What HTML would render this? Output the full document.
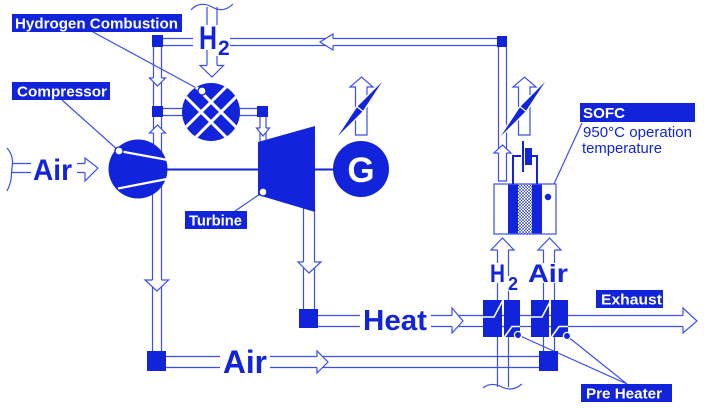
<!DOCTYPE html>
<html><head><meta charset="utf-8"><style>
html,body{margin:0;padding:0;background:#fff;}
svg{display:block;}
text{font-family:"Liberation Sans",Arial,sans-serif;}
</style></head><body>
<svg width="704" height="409" viewBox="0 0 704 409" xmlns="http://www.w3.org/2000/svg">
<defs>
<clipPath id="cc"><circle cx="211" cy="112" r="29"/></clipPath>
<pattern id="dots" width="3" height="3" patternUnits="userSpaceOnUse">
<rect width="3" height="3" fill="#fff"/><circle cx="1" cy="1" r="0.9" fill="#1124dc"/><circle cx="2.5" cy="2.5" r="0.6" fill="#1124dc"/>
</pattern>
</defs>
<rect width="704" height="409" fill="#fff"/>

<!-- pipe lines -->
<g stroke="#3b4ff0" stroke-width="1.2" fill="none">
 <path d="M163 38.5H193M230 38.5H497M163 45.5H193M230 45.5H497"/>
 <path d="M207 7V25M207 50V66M217 7V25M217 56V66"/>
 <path d="M191 10C197 3 205 3 212 7C219 11 226 11 233 4"/>
 <path d="M153.5 47V106M161.5 47V106"/>
 <path d="M163 108.5H183M163 115.5H183M239 108.5H257M239 115.5H257"/>
 <path d="M153.5 117V160M161.5 117V160"/>
 <path d="M152.5 175V351M161.5 175V351"/>
 <path d="M260 117V150M266 117V150"/>
 <path d="M303.5 200V309M314.5 200V309"/>
 <path d="M166 356.5H220M270 356.5H539M166 367.5H220M270 367.5H539"/>
 <path d="M318 315.5H360M431 315.5H683M318 326.5H360M431 326.5H683"/>
 <path d="M497.5 387V283M497.5 263V250M508.5 387V291M508.5 276V250"/>
 <path d="M483 388C489 383 496 384 502 387C508 390 515 390 522 384"/>
 <path d="M543.5 351V283M543.5 263V250M554.5 351V283M554.5 263V250"/>
 <path d="M498.5 47V181H506.5V47"/>
 <path d="M12 163.5H31M12 172.5H31M77 163.5H85M77 172.5H85"/>
 <path d="M7 148C13 155 13 161 12 168C11 176 12 182 7 191"/>
 <!-- leader lines -->
 <path d="M93 32L202 91M62 100L119 151M235 211L263 192M582 123L548 197M518 335L627 384M567 336L627 384"/>
</g>

<!-- arrowheads (hollow) -->
<g fill="#fff" stroke="none">
 <polygon points="149.5,78 165.5,78 157.5,86"/>
 <polygon points="149.5,133 165.5,133 157.5,125"/>
 <polygon points="145,280 168.5,280 157,291"/>
 <polygon points="256.5,128 269.5,128 263,136"/>
 <polygon points="298,262 321,262 309,273"/>
 <polygon points="200,65.5 223.5,65.5 212,77"/>
 <polygon points="333,34 333,50 320,42"/>
 <polygon points="494,153 511,153 502.5,145"/>
 <polygon points="317,351 317,373 328,362"/>
 <polygon points="452,308 452,333 463,321"/>
 <polygon points="85,158 85,181 98,168"/>
</g>
<g fill="none" stroke="#3b4ff0" stroke-width="1.2">
 <polyline points="153.5,78 149.5,78 157.5,86 165.5,78 161.5,78"/>
 <polyline points="153.5,133 149.5,133 157.5,125 165.5,133 161.5,133"/>
 <polyline points="152.5,280 145,280 157,291 168.5,280 161.5,280"/>
 <polyline points="260,128 256.5,128 263,136 269.5,128 266,128"/>
 <polyline points="303.5,262 298,262 309,273 321,262 314.5,262"/>
 <polyline points="207,65.5 200,65.5 212,77 223.5,65.5 217,65.5"/>
 <polyline points="333,38.5 333,34 320,42 333,50 333,45.5"/>
 <polyline points="498.5,153 494,153 502.5,145 511,153 506.5,153"/>
 <polyline points="317,356.5 317,351 328,362 317,373 317,367.5"/>
 <polyline points="452,315.5 452,308 463,321 452,333 452,326.5"/>
 <polyline points="85,163.5 85,158 98,168 85,181 85,172.5"/>
 <polyline points="683,315.5 683,308 697,321 683,333 683,326.5" fill="#fff"/>
 <polyline points="497.5,250 491,250 502.5,238 514,250 508.5,250" fill="#fff"/>
 <polyline points="543.5,250 538,250 549.5,238 561,250 554.5,250" fill="#fff"/>
</g>

<!-- junction squares -->
<g fill="#1124dc">
 <rect x="152" y="35" width="11" height="12"/>
 <rect x="152" y="106" width="11" height="11"/>
 <rect x="257" y="106" width="11" height="11"/>
 <rect x="497" y="36" width="10" height="11"/>
 <rect x="147" y="351" width="19" height="20"/>
 <rect x="539" y="351" width="19" height="20"/>
 <rect x="299" y="309" width="19" height="19"/>
</g>

<!-- shaft -->
<path d="M166 169.5H260M313 169.5H336" stroke="#1124dc" stroke-width="2"/>

<!-- compressor -->
<circle cx="138" cy="169" r="29.5" fill="#1124dc"/>
<path d="M119 151L168 160M118 188.5L167 179" stroke="#fff" stroke-width="2.2"/>
<circle cx="119" cy="151" r="4" fill="#fff" stroke="#1124dc" stroke-width="1.3"/>

<!-- combustion -->
<circle cx="211" cy="112" r="29" fill="#1124dc"/>
<g clip-path="url(#cc)" stroke="#fff" stroke-width="3">
 <path d="M175 138L250 63M175 158L250 83M175 86L250 161M175 66L250 141"/>
</g>
<circle cx="202" cy="91" r="4" fill="#fff" stroke="#1124dc" stroke-width="1.3"/>

<!-- turbine -->
<polygon points="258,142 315,126 315,212 258,195" fill="#1124dc"/>
<circle cx="263" cy="192" r="4" fill="#fff" stroke="#1124dc" stroke-width="1.3"/>

<!-- generator -->
<circle cx="361" cy="169" r="28" fill="#1124dc"/>
<text x="361" y="182" font-size="35" font-weight="bold" fill="#fff" text-anchor="middle">G</text>

<!-- G arrow + needle -->
<g id="ga">
 <polygon points="355.5,135 355.5,87 350,87 361.5,77 373,87 367,87 367,135" fill="#fff" stroke="#3b4ff0" stroke-width="1.2"/>
 <polygon points="338,136 362.7,111.2 382,82 357.3,106.8" fill="#fff" stroke="#fff" stroke-width="3"/>
 <polygon points="338,136 362.7,111.2 382,82 357.3,106.8" fill="#1124dc"/>
 <path d="M356.5 106.2L363.5 111.8" stroke="#fff" stroke-width="1.3"/>
</g>
<g transform="translate(163,0)">
 <polygon points="355.5,135 355.5,87 350,87 361.5,77 373,87 367,87 367,135" fill="#fff" stroke="#3b4ff0" stroke-width="1.2"/>
 <polygon points="338,136 362.7,111.2 382,82 357.3,106.8" fill="#fff" stroke="#fff" stroke-width="3"/>
 <polygon points="338,136 362.7,111.2 382,82 357.3,106.8" fill="#1124dc"/>
 <path d="M356.5 106.2L363.5 111.8" stroke="#fff" stroke-width="1.3"/>
</g>

<!-- SOFC -->
<rect x="494" y="184" width="62" height="50" fill="#fff" stroke="#3b4ff0" stroke-width="1.2"/>
<rect x="508" y="184.6" width="34" height="48.8" fill="#1124dc"/>
<rect x="518" y="184.6" width="14" height="48.8" fill="url(#dots)"/>
<circle cx="548" cy="197" r="3.2" fill="#1124dc"/>
<path d="M513 184V156H521M537 184V156H532" fill="none" stroke="#1124dc" stroke-width="2"/>
<path d="M523 141V172" stroke="#1124dc" stroke-width="2"/>
<rect x="525" y="148" width="7" height="17" fill="#1124dc"/>

<!-- heat exchangers -->
<g fill="#1124dc">
 <rect x="483" y="300" width="19" height="37"/>
 <rect x="504" y="300" width="16" height="37"/>
 <rect x="531" y="300" width="18" height="37"/>
 <rect x="551" y="300" width="17" height="37"/>
</g>
<g fill="none" stroke="#fff" stroke-width="1.6">
 <polyline points="483,317 494,317 502.5,301"/>
 <polyline points="504.5,337 512,326.5 520,326.5"/>
 <polyline points="531,317 542,317 550.5,301"/>
 <polyline points="551.5,337 559,326.5 568,326.5"/>
</g>
<circle cx="518" cy="335" r="3.6" fill="#1124dc" stroke="#fff" stroke-width="1.3"/>
<circle cx="567" cy="336" r="3.6" fill="#1124dc" stroke="#fff" stroke-width="1.3"/>

<!-- labels -->
<g fill="#1124dc">
 <rect x="12" y="14" width="170" height="18"/>
 <rect x="12" y="82" width="98" height="18"/>
 <rect x="185" y="211" width="62" height="18"/>
 <rect x="580" y="103" width="115" height="19"/>
 <rect x="596" y="290" width="67" height="18"/>
 <rect x="581" y="384" width="91" height="18"/>
</g>
<g fill="#fff" font-size="15" font-weight="bold">
 <text x="15" y="28.5" textLength="163" lengthAdjust="spacingAndGlyphs">Hydrogen Combustion</text>
 <text x="17" y="96.5" textLength="90" lengthAdjust="spacingAndGlyphs">Compressor</text>
 <text x="189" y="225.5" textLength="53" lengthAdjust="spacingAndGlyphs">Turbine</text>
 <text x="583" y="118" textLength="42" lengthAdjust="spacingAndGlyphs">SOFC</text>
 <text x="601" y="304.5" textLength="61" lengthAdjust="spacingAndGlyphs">Exhaust</text>
 <text x="586" y="398.5" textLength="76" lengthAdjust="spacingAndGlyphs">Pre Heater</text>
</g>
<g fill="#1124dc" font-size="15">
 <text x="583" y="137" textLength="109" lengthAdjust="spacingAndGlyphs">950°C operation</text>
 <text x="582" y="153" textLength="80" lengthAdjust="spacingAndGlyphs">temperature</text>
</g>

<!-- big labels -->
<g fill="#1124dc" font-weight="bold">
 <text x="199" y="49" font-size="32" textLength="18" lengthAdjust="spacingAndGlyphs">H</text>
 <text x="218" y="55" font-size="21">2</text>
 <text x="33" y="180" font-size="30" textLength="39" lengthAdjust="spacingAndGlyphs">Air</text>
 <text x="223" y="373" font-size="32" textLength="44" lengthAdjust="spacingAndGlyphs">Air</text>
 <text x="363" y="330" font-size="29" textLength="64" lengthAdjust="spacingAndGlyphs">Heat</text>
 <text x="490" y="282" font-size="25" textLength="15" lengthAdjust="spacingAndGlyphs">H</text>
 <text x="508" y="290" font-size="18">2</text>
 <text x="528" y="282" font-size="25" textLength="40" lengthAdjust="spacingAndGlyphs">Air</text>
</g>
</svg>
</body></html>
